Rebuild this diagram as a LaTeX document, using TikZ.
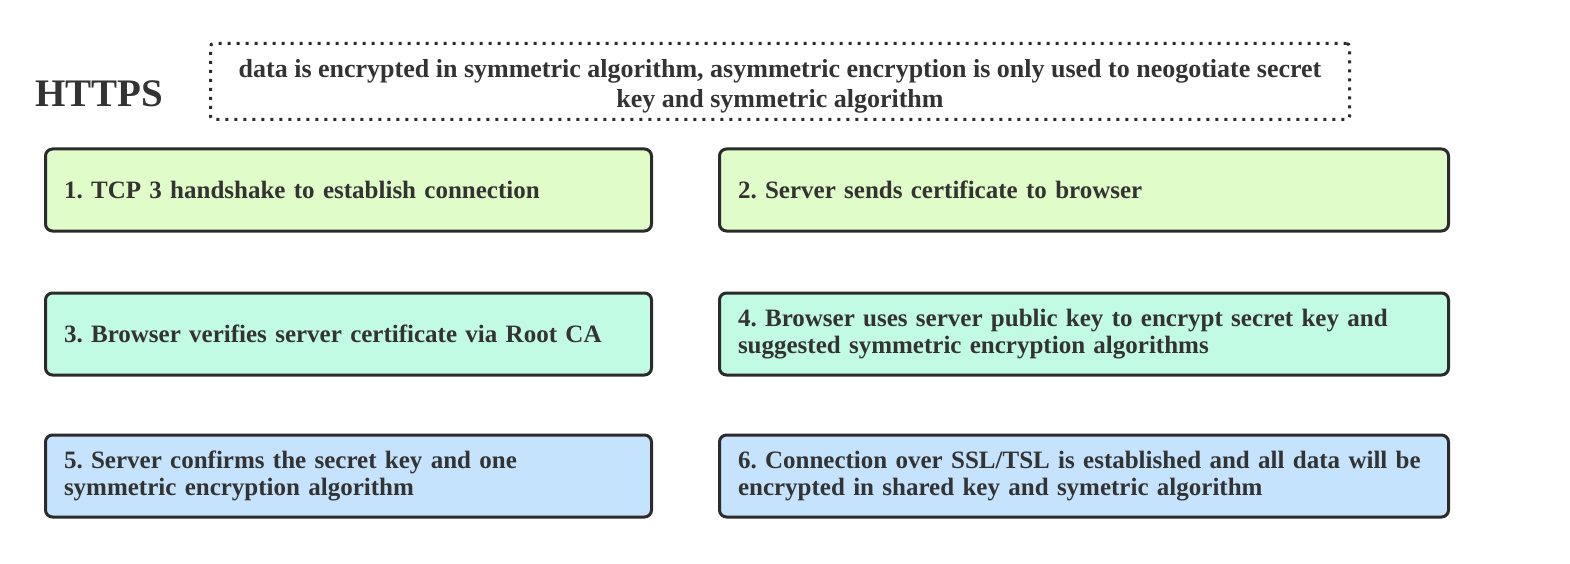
\documentclass[tikz,border=0pt]{standalone}
\usepackage{fontspec}
\setmainfont{Liberation Serif}
\frenchspacing
\usetikzlibrary{positioning}
\definecolor{txt}{HTML}{333333}
\definecolor{edge}{HTML}{2B2B2B}
\definecolor{pgreen}{HTML}{E0FCC8}
\definecolor{pteal}{HTML}{C2FBE4}
\definecolor{pblue}{HTML}{C5E3FC}
\tikzstyle{stepbox} = [draw = edge, line width = 3pt, rounded corners = 7pt, anchor = north west, align = left, inner xsep = 18.5pt, minimum height = 82pt, text = txt, font = \bfseries\fontsize{25}{27.5}\selectfont]
\tikzstyle{note} = [draw = edge, line width = 3pt, dash pattern = on 3pt off 6pt, rounded corners = 3pt, align = center, minimum width = 1139pt, minimum height = 76pt, text = txt, font = \bfseries\fontsize{26}{30}\selectfont]

\begin{document}
\begin{tikzpicture}[x = 1pt, y = -1pt]

	\useasboundingbox (0, 0) rectangle (1570, 564);

	\node[text = txt, font = \bfseries\fontsize{39}{44}\selectfont] (title) at (99, 94) {HTTPS};
	\node[note] (remark) at (780, 81.5) {\rule{0pt}{28pt}data is encrypted in symmetric algorithm, asymmetric encryption is only used to neogotiate secret\\key and symmetric algorithm};

	% first row
	\node[stepbox, fill = pgreen, text width = 569pt] (s1) at (44, 147.5) {1. TCP 3 handshake to establish connection};
	\node[stepbox, fill = pgreen, text width = 692pt] (s2) at (718, 147.5) {2. Server sends certificate to browser};

	% second row
	\node[stepbox, fill = pteal, text width = 569pt] (s3) at (44, 291.5) {3. Browser verifies server certificate via Root CA};
	\node[stepbox, fill = pteal, text width = 692pt] (s4) at (718, 291.5) {4. Browser uses server public key to encrypt secret key and\\suggested symmetric encryption algorithms};

	% third row
	\node[stepbox, fill = pblue, text width = 569pt] (s5) at (44, 433.5) {5. Server confirms the secret key and one\\symmetric encryption algorithm};
	\node[stepbox, fill = pblue, text width = 692pt] (s6) at (718, 433.5) {6. Connection over SSL/TSL is established and all data will be\\encrypted in shared key and symetric algorithm};

\end{tikzpicture}
\end{document}
